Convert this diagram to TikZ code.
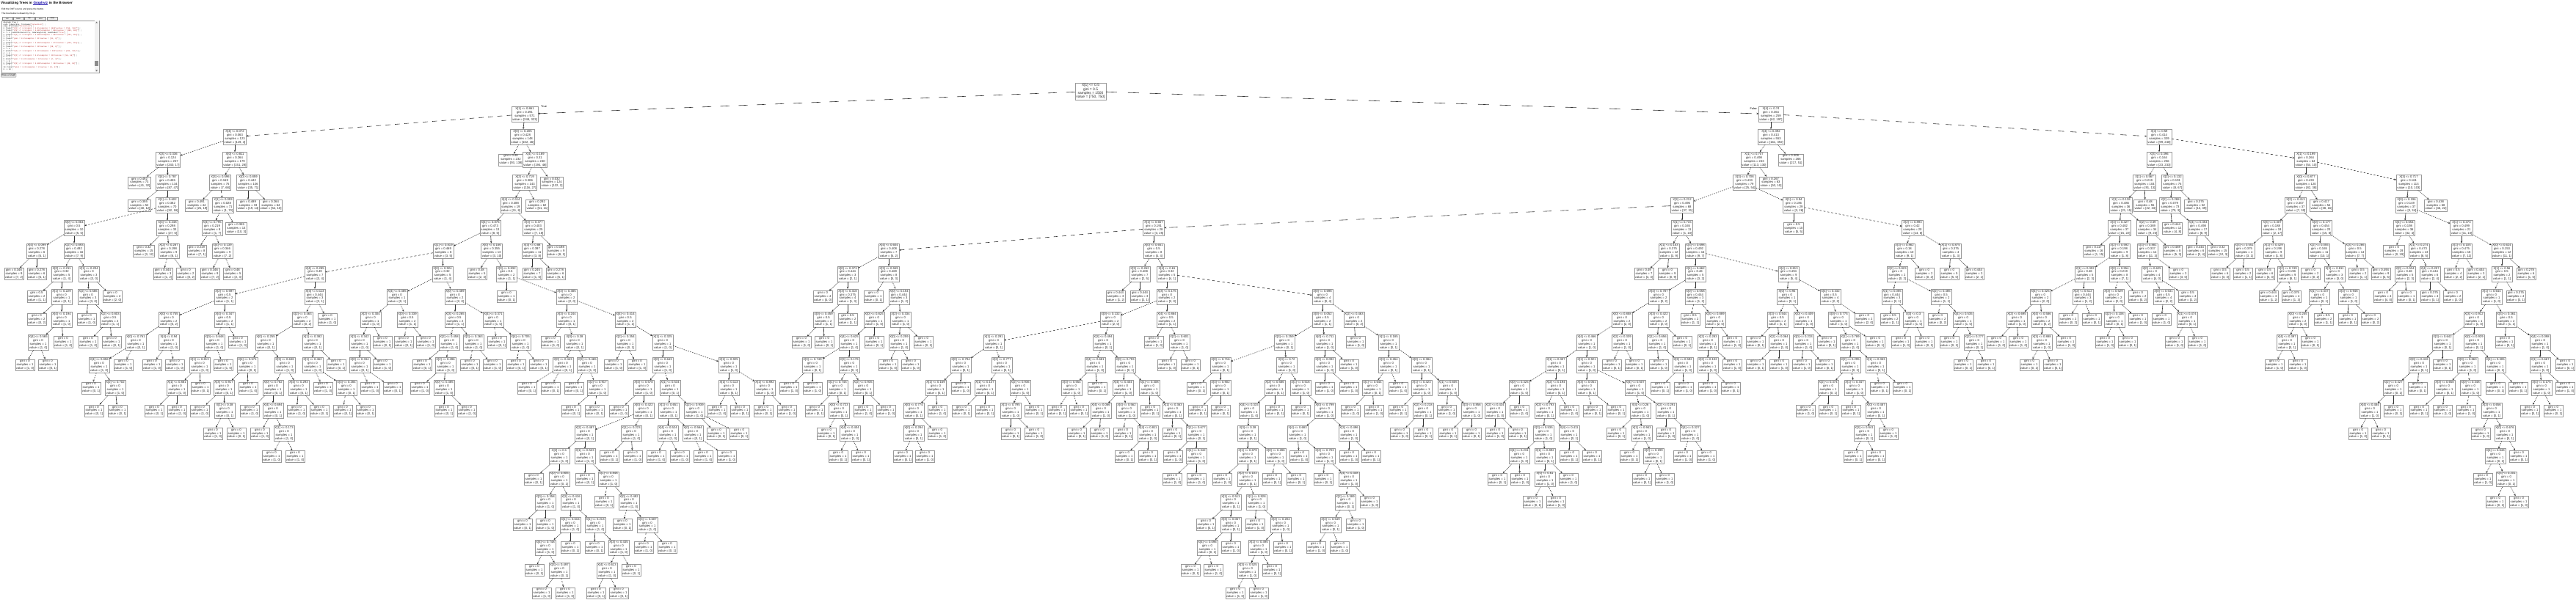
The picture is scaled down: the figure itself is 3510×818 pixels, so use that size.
\documentclass[tikz,border=0pt]{standalone}
\usepackage{fontspec}
\setmainfont{Liberation Sans}
\setmonofont{Liberation Mono}
\usetikzlibrary{arrows.meta}
\definecolor{linkblue}{HTML}{1A0DAB}
\definecolor{codered}{HTML}{B22222}
\pgfkeys{/pgf/number format/.cd,fixed,precision=3,assume math mode=true}
\newcount\lfno
\newcommand\bsl{\textbackslash}
\newcommand\tgen[1]{%
  \pgfmathtruncatemacro\nn{max(1,round(1500*pow(0.5,#1)*(0.3+1.3*rnd)))}%
  \pgfmathtruncatemacro\na{round(\nn*rnd)}%
  \pgfmathtruncatemacro\nb{\nn-\na}%
  \pgfmathsetmacro\gi{1-(\na/\nn)^2-(\nb/\nn)^2}%
  \pgfmathtruncatemacro\fk{random(0,4)}%
  \pgfmathsetmacro\thr{0.05+0.9*rnd}}
\newcommand\tedg[3]{%
  \pgfmathsetmacro\ddx{abs(#3-\csname nx@#1\endcsname)}%
  \ifdim\ddx pt<3.5pt\relax
    \draw[tedge] (#1) -- (#2);%
  \else
    \pgfmathsetmacro\rr{min(\ddx,31.1)/max(\ddx,31.1)}%
    \pgfmathsetmacro\hp{max(0.75,sqrt(1+\rr*\rr)/\rr/2)}%
    \draw[tedge,dash pattern=on \hp pt off \hp pt] (#1) -- (#2);%
  \fi}
\newcommand\tnI[4]{%
  \tgen{#4}%
  \node[inode] (#1) at (#3,{-124.5-31.1*#4}) {X[\fk] <= \pgfmathprintnumber{\thr}\\gini = \pgfmathprintnumber{\gi}\\samples = \nn\\value = [\na, \nb]};%
  \expandafter\xdef\csname nx@#1\endcsname{#3}%
  \tedg{#2}{#1}{#3}}
\newcommand\tnL[3]{%
  \global\advance\lfno by 1
  \edef\lfname{lf\the\lfno}%
  \tgen{#3}%
  \node[lnode] (\lfname) at (#2,{-124.5-31.1*#3}) {gini = \pgfmathprintnumber{\gi}\\samples = \nn\\value = [\na, \nb]};%
  \tedg{#1}{\lfname}{#2}}
\newcommand\cl[2]{\node[codeln] at (4.5,#1) {#2};}
\begin{document}
\begin{tikzpicture}[x=1pt,y=1pt,
  inode/.style={draw=black!40,line width=0.4pt,fill=white,text=black!85,inner sep=1.1pt,align=center,minimum width=28pt,font=\fontsize{4.2}{4.9}\selectfont},
  lnode/.style={inode,minimum width=24pt},
  rootnode/.style={inode,font=\fontsize{4.9}{5.3}\selectfont,inner sep=1.3pt},
  tedge/.style={draw=black!80,line width=0.6pt,-{Stealth[length=2.8pt,width=2.4pt]}},
  lbl/.style={font=\fontsize{3.8}{4}\selectfont,inner sep=0},
  codeln/.style={anchor=west,inner sep=0,font=\ttfamily\fontsize{2.4}{2.6}\selectfont},
  smalltxt/.style={anchor=west,inner sep=0,font=\fontsize{3.1}{3.5}\selectfont},
  titletxt/.style={anchor=west,inner sep=0,font=\fontsize{4.6}{5}\selectfont\bfseries},
  tabbox/.style={draw=black!45,fill=black!6,line width=0.3pt,inner sep=0,minimum width=14pt,minimum height=4pt,font=\fontsize{2.3}{2.5}\selectfont}]
\useasboundingbox (0,0) rectangle (3510,-818);
\fill[white] (0,0) rectangle (3510,-818);
\pgfmathsetseed{12}
% ---------- page header / editor ----------
\node[titletxt] (title1) at (1,-4) {Visualizing Trees in};
\node[titletxt,text=linkblue,anchor=base west] (titlelink) at ([xshift=1.3pt]title1.base east) {Graphviz};
\draw[linkblue,line width=0.3pt] ([yshift=-0.5pt]titlelink.base west) -- ([yshift=-0.5pt]titlelink.base east);
\node[titletxt,anchor=base west] (title2) at ([xshift=1.3pt]titlelink.base east) {in the Browser};
\node[smalltxt] (line2) at (2,-13) {Edit the DOT source and press the button.};
\node[smalltxt] (line3) at (2,-19) {The tree below is drawn by Viz.js.};
\node[tabbox] (tab1) at (10,-25.3) {dot};
\node[tabbox] (tab2) at (25,-25.3) {neato};
\node[tabbox] (tab3) at (40,-25.3) {fdp};
\node[tabbox] (tab4) at (55.5,-25.3) {circo};
\node[tabbox] (tab5) at (71.5,-25.3) {twopi};
\draw[black!40,line width=0.35pt] (2,-28) rectangle (135,-99);
\fill[black!5] (128.6,-28.5) rectangle (134.5,-98.5);
\fill[black!45] (129.4,-83.5) rectangle (133.7,-90.5);
\fill[black!55] (130.2,-31.5) -- (133,-31.5) -- (131.6,-29.6) -- cycle;
\fill[black!55] (130.2,-95.5) -- (133,-95.5) -- (131.6,-97.4) -- cycle;
\cl{-30.6}{digraph Tree \{}
\cl{-33.4}{node [shape=box, fontname=\textcolor{codered}{"helvetica"}] ;}
\cl{-36.2}{edge [fontname=\textcolor{codered}{"helvetica"}] ;}
\cl{-39.0}{0 [label=\textcolor{codered}{"X[1] <= 0.5\bsl ngini = 0.5\bsl nsamples = 1500\bsl nvalue = [750, 750]"}] ;}
\cl{-41.8}{1 [label=\textcolor{codered}{"X[0] <= 0.5\bsl ngini = 0.482\bsl nsamples = 806\bsl nvalue = [480, 326]"}] ;}
\cl{-44.6}{0 -> 1 [labeldistance=2.5, labelangle=45, headlabel=\textcolor{codered}{"True"}] ;}
\cl{-47.4}{2 [label=\textcolor{codered}{"X[2] <= 0.5\bsl ngini = 0.468\bsl nsamples = 402\bsl nvalue = [251, 151]"}] ;}
\cl{-50.2}{1 -> 2 ;}
\cl{-53.0}{3 [label=\textcolor{codered}{"gini = 0.0\bsl nsamples = 31\bsl nvalue = [31, 0]"}] ;}
\cl{-55.8}{2 -> 3 ;}
\cl{-58.6}{4 [label=\textcolor{codered}{"X[3] <= 0.5\bsl ngini = 0.459\bsl nsamples = 371\bsl nvalue = [220, 151]"}] ;}
\cl{-61.4}{2 -> 4 ;}
\cl{-64.2}{5 [label=\textcolor{codered}{"gini = 0.0\bsl nsamples = 18\bsl nvalue = [18, 0]"}] ;}
\cl{-67.0}{4 -> 5 ;}
\cl{-69.8}{6 [label=\textcolor{codered}{"X[3] <= 1.5\bsl ngini = 0.49\bsl nsamples = 353\bsl nvalue = [202, 151]"}] ;}
\cl{-72.6}{4 -> 6 ;}
\cl{-75.4}{7 [label=\textcolor{codered}{"X[2] <= 1.5\bsl ngini = 0.5\bsl nsamples = 112\bsl nvalue = [56, 56]"}] ;}
\cl{-78.2}{6 -> 7 ;}
\cl{-81.0}{8 [label=\textcolor{codered}{"gini = 0.42\bsl nsamples = 10\bsl nvalue = [7, 3]"}] ;}
\cl{-83.8}{7 -> 8 ;}
\cl{-86.6}{9 [label=\textcolor{codered}{"X[0] <= 2.5\bsl ngini = 0.498\bsl nsamples = 102\bsl nvalue = [49, 53]"}] ;}
\cl{-89.4}{7 -> 9 ;}
\cl{-92.2}{10 [label=\textcolor{codered}{"gini = 0.0\bsl nsamples = 4\bsl nvalue = [0, 4]"}] ;}
\cl{-95.0}{9 -> 10 ;}
\node[draw=black!50,fill=black!8,line width=0.35pt,rounded corners=0.6pt,inner sep=0.8pt,font=\fontsize{3.1}{3.4}\selectfont,anchor=north west] (btn) at (1,-100.5) {Draw a Graph};
% ---------- tree ----------
\node[rootnode] (r) at (1486,-124.5) {X[1] <= 0.5\\gini = 0.5\\samples = 1500\\value = [750, 750]};
\expandafter\xdef\csname nx@r\endcsname{1486}
% A subtree
\tnI{A}{r}{715}{1}
\tnI{B}{A}{320}{2}
\tnI{C}{A}{712}{2}
\tnI{B1}{B}{229}{3}
\tnI{B2}{B}{320}{3}
\tnL{B1}{190}{4}
\tnI{B1a}{B1}{228}{4}
\tnI{B2a}{B2}{300}{4}
\tnI{B2b}{B2}{338}{4}
\tnL{B1a}{190}{5}
\tnI{B1b}{B1a}{228}{5}
\tnL{B2a}{268}{5}
\tnI{B2a1}{B2a}{304}{5}
\tnL{B2b}{338}{5}
\tnL{B2b}{369}{5}
\tnI{D}{B1b}{101}{6}
\tnI{E}{B1b}{228}{6}
\tnI{B2a2}{B2a1}{289}{6}
\tnL{B2a1}{322}{6}
\tnI{D1}{D}{50}{7}
\tnI{D2}{D}{101}{7}
\tnL{E}{196}{7}
\tnI{E1}{E}{230}{7}
\tnL{B2a2}{268}{7}
\tnI{B2a3}{B2a2}{303}{7}
\tnL{D1}{19}{8}
\tnL{D1}{50}{8}
\tnI{D2a}{D2}{84}{8}
\tnI{D2b}{D2}{121}{8}
\tnL{E1}{222}{8}
\tnL{E1}{253}{8}
\tnL{B2a3}{286}{8}
\tnL{B2a3}{317}{8}
\tnL{D2a}{50}{9}
\tnI{D2a1}{D2a}{84}{9}
\tnI{D2b1}{D2b}{120}{9}
\tnL{D2b}{153}{9}
\tnL{D2a1}{50}{10}
\tnI{D2a2}{D2a1}{84}{10}
\tnL{D2b1}{118}{10}
\tnI{D2b2}{D2b1}{150}{10}
\tnI{D2a3}{D2a2}{52}{11}
\tnL{D2a2}{86}{11}
\tnL{D2b2}{120}{11}
\tnL{D2b2}{152}{11}
\tnL{D2a3}{34}{12}
\tnL{D2a3}{65}{12}
% C subtree
\tnL{C}{696}{3}
\tnI{C1}{C}{729}{3}
\tnI{C2}{C1}{715}{4}
\tnL{C1}{752}{4}
\tnI{C3}{C2}{696}{5}
\tnL{C2}{732}{5}
\tnI{F}{C3}{668}{6}
\tnI{G}{C3}{727}{6}
\tnI{H}{F}{604}{7}
\tnI{F1}{F}{670}{7}
\tnI{G1}{G}{725}{7}
\tnL{G}{758}{7}
\tnI{I}{H}{429}{8}
\tnI{H1}{H}{603}{8}
\tnL{F1}{650}{8}
\tnI{F2}{F1}{690}{8}
\tnL{G1}{725}{8}
\tnL{G1}{757}{8}
\tnL{F2}{690}{9}
\tnI{F3}{F2}{772}{9}
% I subtree
\tnI{Ia}{I}{306}{9}
\tnI{Ib}{I}{429}{9}
\tnI{Ia1}{Ia}{230}{10}
\tnI{Ia2}{Ia}{306}{10}
\tnI{Ia3}{Ia1}{185}{11}
\tnI{Ia4}{Ia1}{230}{11}
\tnI{Ia7}{Ia2}{292}{11}
\tnL{Ia2}{324}{11}
\tnI{Ia5}{Ia3}{135}{12}
\tnL{Ia3}{168}{12}
\tnL{Ia4}{207}{12}
\tnL{Ia4}{238}{12}
\tnI{Ia8}{Ia7}{272}{12}
\tnL{Ia7}{304}{12}
\tnL{Ia5}{124}{13}
\tnI{Ia6}{Ia5}{157}{13}
\tnI{Ia9}{Ia8}{241}{13}
\tnL{Ia8}{273}{13}
\tnL{Ia6}{128}{14}
\tnL{Ia6}{160}{14}
\tnL{Ia9}{210}{14}
\tnL{Ia9}{241}{14}
\tnI{Ib1}{Ib}{412}{10}
\tnL{Ib}{446}{10}
\tnI{Ib2}{Ib1}{362}{11}
\tnI{Ib3}{Ib1}{426}{11}
\tnI{Ib4}{Ib2}{337}{12}
\tnI{Ib5}{Ib2}{388}{12}
\tnI{Ib12}{Ib3}{426}{12}
\tnL{Ib3}{458}{12}
\tnI{Ib6}{Ib4}{305}{13}
\tnL{Ib4}{338}{13}
\tnI{Ib8}{Ib5}{372}{13}
\tnI{Ib9}{Ib5}{407}{13}
\tnL{Ib12}{440}{13}
\tnI{Ib13}{Ib12}{472}{13}
\tnL{Ib6}{272}{14}
\tnI{Ib7}{Ib6}{306}{14}
\tnL{Ib8}{340}{14}
\tnI{Ib10}{Ib8}{372}{14}
\tnL{Ib9}{404}{14}
\tnL{Ib9}{435}{14}
\tnL{Ib13}{467}{14}
\tnL{Ib13}{498}{14}
\tnL{Ib7}{290}{15}
\tnL{Ib7}{322}{15}
\tnL{Ib10}{354}{15}
\tnI{Ib11}{Ib10}{387}{15}
\tnL{Ib11}{370}{16}
\tnL{Ib11}{402}{16}
% H1 subtree
\tnI{H1a}{H1}{541}{9}
\tnI{H2}{H1}{620}{9}
\tnI{H1b}{H1a}{505}{10}
\tnI{H1c}{H1a}{555}{10}
\tnI{H2a}{H2}{620}{10}
\tnI{H2b}{H2}{672}{10}
\tnI{H1d}{H1b}{490}{11}
\tnL{H1b}{521}{11}
\tnL{H1c}{550}{11}
\tnL{H1c}{580}{11}
\tnI{H2c}{H2a}{612}{11}
\tnI{H2d}{H2a}{645}{11}
\tnL{H2b}{677}{11}
\tnI{H2e}{H2b}{709}{11}
\tnI{H1e}{H1d}{490}{12}
\tnL{H1d}{521}{12}
\tnL{H2c}{575}{12}
\tnI{H2g}{H2c}{607}{12}
\tnL{H2d}{640}{12}
\tnL{H2d}{671}{12}
\tnL{H2e}{703}{12}
\tnL{H2e}{734}{12}
\tnL{H1e}{504}{13}
\tnL{H1e}{535}{13}
\tnL{H2g}{572}{13}
\tnI{H2h}{H2g}{605}{13}
\tnL{H2h}{605}{14}
\tnL{H2h}{636}{14}
% F3 subtree
\tnI{F3a}{F3}{772}{10}
\tnI{F3b}{F3}{852}{10}
\tnL{F3a}{750}{11}
\tnI{F3a1}{F3a}{783}{11}
\tnI{F3b1}{F3b}{852}{11}
\tnI{F3b2}{F3b}{903}{11}
\tnI{F3a2}{F3a1}{767}{12}
\tnI{F3a3}{F3a1}{800}{12}
\tnL{F3b1}{836}{12}
\tnL{F3b1}{868}{12}
\tnI{F3c}{F3b2}{903}{12}
\tnI{F3d}{F3b2}{993}{12}
\tnL{F3a2}{718}{13}
\tnL{F3a2}{750}{13}
\tnL{F3a3}{782}{13}
\tnI{F3a4}{F3a3}{814}{13}
\tnI{F3c1}{F3c}{877}{13}
\tnI{F3c2}{F3c}{913}{13}
\tnI{F3d1}{F3d}{993}{13}
\tnI{F3d2}{F3d}{1042}{13}
\tnL{F3a4}{778}{14}
\tnL{F3a4}{810}{14}
\tnL{F3c1}{843}{14}
\tnI{F3c3}{F3c1}{877}{14}
\tnI{F3c20}{F3c2}{911}{14}
\tnI{F3c21}{F3c2}{946}{14}
\tnL{F3d1}{977}{14}
\tnL{F3d1}{1008}{14}
\tnL{F3d2}{1040}{14}
\tnL{F3d2}{1072}{14}
\tnI{F3c4}{F3c3}{797}{15}
\tnI{F3c5}{F3c3}{860}{15}
\tnI{F3c22}{F3c20}{910}{15}
\tnI{F3c23}{F3c20}{944}{15}
\tnL{F3c21}{976}{15}
\tnL{F3c21}{1007}{15}
\tnI{F3c6}{F3c4}{762}{16}
\tnI{F3c7}{F3c4}{797}{16}
\tnL{F3c5}{830}{16}
\tnL{F3c5}{862}{16}
\tnL{F3c22}{894}{16}
\tnL{F3c22}{926}{16}
\tnL{F3c23}{958}{16}
\tnL{F3c23}{990}{16}
\tnL{F3c6}{727}{17}
\tnI{F3c8}{F3c6}{762}{17}
\tnL{F3c7}{797}{17}
\tnI{F3c17}{F3c7}{829}{17}
\tnI{F3c9}{F3c8}{743}{18}
\tnI{F3c10}{F3c8}{778}{18}
\tnL{F3c17}{823}{18}
\tnI{F3c18}{F3c17}{857}{18}
\tnL{F3c9}{712}{19}
\tnL{F3c9}{743}{19}
\tnI{F3c11}{F3c10}{777}{19}
\tnI{F3c12}{F3c10}{811}{19}
\tnL{F3c18}{848}{19}
\tnI{F3c19}{F3c18}{882}{19}
\tnI{F3c13}{F3c11}{743}{20}
\tnL{F3c11}{777}{20}
\tnL{F3c12}{810}{20}
\tnI{F3c15}{F3c12}{843}{20}
\tnL{F3c19}{877}{20}
\tnL{F3c19}{909}{20}
\tnL{F3c13}{728}{21}
\tnI{F3c14}{F3c13}{762}{21}
\tnI{F3c16}{F3c15}{827}{21}
\tnL{F3c15}{860}{21}
\tnL{F3c14}{738}{22}
\tnL{F3c14}{770}{22}
\tnL{F3c16}{812}{22}
\tnL{F3c16}{843}{22}
% R chain
\tnI{R}{r}{2413}{1}
\tnI{R1}{R}{2413}{2}
\tnI{S}{R}{2942}{2}
\tnI{R2}{R1}{2390}{3}
\tnL{R1}{2440}{3}
\tnI{R3}{R2}{2377}{4}
\tnL{R2}{2413}{4}
\tnI{T}{R3}{2292}{5}
\tnI{U}{R3}{2444}{5}
\tnI{P}{T}{1572}{6}
\tnI{T1}{T}{2292}{6}
\tnL{U}{2444}{6}
\tnI{V}{U}{2606}{6}
% P1 subtree
\tnI{P1}{P}{1211}{7}
\tnI{P2}{P}{1572}{7}
\tnI{P1a}{P1}{1155}{8}
\tnI{P1b}{P1}{1211}{8}
\tnL{P1a}{1121}{9}
\tnI{P1c}{P1a}{1155}{9}
\tnL{P1b}{1190}{9}
\tnI{P1e}{P1b}{1225}{9}
\tnI{P1d}{P1c}{1122}{10}
\tnL{P1c}{1155}{10}
\tnI{P1f}{P1e}{1191}{10}
\tnI{P1g}{P1e}{1227}{10}
\tnL{P1d}{1092}{11}
\tnL{P1d}{1123}{11}
\tnI{P1h}{P1f}{1157}{11}
\tnL{P1f}{1191}{11}
\tnI{P1i}{P1g}{1225}{11}
\tnL{P1g}{1258}{11}
\tnI{P1j}{P1h}{1107}{12}
\tnI{P1k}{P1h}{1157}{12}
\tnL{P1i}{1210}{12}
\tnL{P1i}{1241}{12}
\tnL{P1j}{1075}{13}
\tnL{P1j}{1107}{13}
\tnI{P1l}{P1k}{1141}{13}
\tnI{P1m}{P1k}{1176}{13}
\tnL{P1l}{1110}{14}
\tnI{P1n}{P1l}{1143}{14}
\tnL{P1m}{1176}{14}
\tnL{P1m}{1207}{14}
\tnL{P1n}{1126}{15}
\tnI{P1o}{P1n}{1158}{15}
\tnL{P1o}{1142}{16}
\tnL{P1o}{1173}{16}
% P2, M, K, Q
\tnI{P2a}{P2}{1553}{8}
\tnI{P2b}{P2}{1590}{8}
\tnL{P2a}{1520}{9}
\tnL{P2a}{1553}{9}
\tnI{P2c}{P2b}{1590}{9}
\tnI{Q}{P2b}{1802}{9}
\tnI{M1}{P2c}{1513}{10}
\tnI{M2}{P2c}{1590}{10}
\tnI{Qa}{Q}{1802}{10}
\tnI{Qb}{Q}{1845}{10}
\tnI{K}{M1}{1354}{11}
\tnI{M3}{M1}{1503}{11}
\tnL{M2}{1572}{11}
\tnI{M4}{M2}{1607}{11}
\tnI{Qc}{Qa}{1750}{11}
\tnI{Qd}{Qa}{1805}{11}
\tnL{Qb}{1847}{11}
\tnI{Qf}{Qb}{1892}{11}
\tnI{K1}{K}{1309}{12}
\tnI{K2}{K}{1365}{12}
\tnI{M5}{M3}{1492}{12}
\tnI{M6}{M3}{1533}{12}
\tnL{M4}{1590}{12}
\tnL{M4}{1622}{12}
\tnI{Qe}{Qc}{1663}{12}
\tnI{Qg0}{Qc}{1753}{12}
\tnI{Qh}{Qd}{1805}{12}
\tnL{Qd}{1838}{12}
\tnI{Qi}{Qf}{1892}{12}
\tnI{Qj}{Qf}{1937}{12}
\tnI{K3}{K1}{1275}{13}
\tnL{K1}{1309}{13}
\tnI{K6}{K2}{1342}{13}
\tnI{K7}{K2}{1390}{13}
\tnI{M7}{M5}{1460}{13}
\tnL{M5}{1495}{13}
\tnI{M8}{M6}{1530}{13}
\tnI{M9}{M6}{1566}{13}
\tnL{Qe}{1630}{13}
\tnI{Qk}{Qe}{1663}{13}
\tnI{Ql}{Qg0}{1737}{13}
\tnI{Qm}{Qg0}{1772}{13}
\tnL{Qh}{1805}{13}
\tnL{Qh}{1838}{13}
\tnI{Qn}{Qi}{1870}{13}
\tnL{Qi}{1905}{13}
\tnI{Qo}{Qj}{1937}{13}
\tnI{Qp}{Qj}{1973}{13}
\tnI{K4}{K3}{1245}{14}
\tnL{K3}{1277}{14}
\tnL{K6}{1310}{14}
\tnL{K6}{1342}{14}
\tnI{K8}{K7}{1377}{14}
\tnL{K7}{1409}{14}
\tnL{M7}{1440}{14}
\tnL{M7}{1470}{14}
\tnI{M10}{M8}{1500}{14}
\tnI{M11}{M8}{1535}{14}
\tnL{M9}{1567}{14}
\tnI{M13}{M9}{1598}{14}
\tnL{Qk}{1632}{14}
\tnL{Qk}{1663}{14}
\tnI{Qg}{Ql}{1702}{14}
\tnL{Ql}{1737}{14}
\tnL{Qm}{1772}{14}
\tnI{Qq}{Qm}{1805}{14}
\tnL{Qn}{1840}{14}
\tnL{Qn}{1872}{14}
\tnL{Qo}{1905}{14}
\tnI{Qr}{Qo}{1939}{14}
\tnL{Qp}{1971}{14}
\tnI{Qs}{Qp}{2005}{14}
\tnI{K5}{K4}{1245}{15}
\tnL{K4}{1277}{15}
\tnL{K8}{1377}{15}
\tnL{K8}{1409}{15}
\tnL{M10}{1467}{15}
\tnL{M10}{1498}{15}
\tnL{M11}{1530}{15}
\tnI{M12}{M11}{1564}{15}
\tnL{M13}{1597}{15}
\tnI{M14}{M13}{1630}{15}
\tnI{Qt}{Qg}{1700}{15}
\tnI{Qu}{Qq}{1768}{15}
\tnI{Qv}{Qq}{1838}{15}
\tnL{Qr}{1907}{15}
\tnL{Qr}{1939}{15}
\tnL{Qs}{1973}{15}
\tnL{Qs}{2005}{15}
\tnL{K5}{1230}{16}
\tnL{K5}{1260}{16}
\tnL{M12}{1532}{16}
\tnL{M12}{1564}{16}
\tnL{M14}{1598}{16}
\tnI{M15}{M14}{1630}{16}
\tnI{Qw}{Qt}{1700}{16}
\tnI{Qx}{Qt}{1738}{16}
\tnL{Qu}{1770}{16}
\tnI{Qy}{Qu}{1805}{16}
\tnL{Qv}{1838}{16}
\tnL{Qv}{1868}{16}
\tnL{M15}{1597}{17}
\tnL{M15}{1630}{17}
\tnL{Qw}{1665}{17}
\tnI{Qz}{Qw}{1700}{17}
\tnL{Qx}{1733}{17}
\tnL{Qx}{1766}{17}
\tnL{Qy}{1803}{17}
\tnI{Qy2}{Qy}{1838}{17}
\tnI{Q1}{Qz}{1677}{18}
\tnI{Q2}{Qz}{1712}{18}
\tnI{Q3}{Qy2}{1833}{18}
\tnL{Qy2}{1866}{18}
\tnL{Q1}{1643}{19}
\tnI{Q4}{Q1}{1677}{19}
\tnL{Q2}{1710}{19}
\tnI{Q5}{Q2}{1745}{19}
\tnI{Q6}{Q3}{1813}{19}
\tnL{Q3}{1847}{19}
\tnI{Q7}{Q4}{1645}{20}
\tnL{Q4}{1677}{20}
\tnI{Q8}{Q5}{1715}{20}
\tnL{Q5}{1748}{20}
\tnL{Q6}{1793}{20}
\tnL{Q6}{1825}{20}
\tnL{Q7}{1622}{21}
\tnL{Q7}{1653}{21}
\tnI{Q9}{Q8}{1700}{21}
\tnL{Q8}{1733}{21}
\tnL{Q9}{1683}{22}
\tnL{Q9}{1715}{22}
% T subtree
\tnI{T2}{T1}{2274}{7}
\tnI{T3}{T1}{2310}{7}
\tnL{T2}{2240}{8}
\tnL{T2}{2272}{8}
\tnI{T4}{T3}{2310}{8}
\tnI{T5}{T3}{2437}{8}
\tnI{T6}{T4}{2260}{9}
\tnI{T7}{T4}{2310}{9}
\tnI{T5a}{T5}{2435}{9}
\tnI{T5b}{T5}{2494}{9}
\tnI{T8}{T6}{2210}{10}
\tnI{T9}{T6}{2260}{10}
\tnL{T7}{2303}{10}
\tnI{T10}{T7}{2337}{10}
\tnI{T5c}{T5a}{2422}{10}
\tnI{T5d}{T5a}{2458}{10}
\tnI{T5g}{T5b}{2505}{10}
\tnL{T5b}{2540}{10}
\tnI{T11}{T8}{2162}{11}
\tnI{T12}{T8}{2210}{11}
\tnI{T13}{T9}{2258}{11}
\tnL{T9}{2292}{11}
\tnI{T14}{T10}{2327}{11}
\tnL{T10}{2360}{11}
\tnL{T5c}{2392}{11}
\tnI{T5e}{T5c}{2424}{11}
\tnI{T5f}{T5d}{2457}{11}
\tnL{T5d}{2489}{11}
\tnI{T5h}{T5g}{2521}{11}
\tnL{T5g}{2555}{11}
\tnI{T15}{T11}{2120}{12}
\tnI{T16}{T11}{2162}{12}
\tnL{T12}{2196}{12}
\tnL{T12}{2227}{12}
\tnL{T13}{2260}{12}
\tnI{T17}{T13}{2293}{12}
\tnI{T18}{T14}{2327}{12}
\tnL{T14}{2360}{12}
\tnL{T5e}{2392}{12}
\tnL{T5e}{2424}{12}
\tnL{T5f}{2455}{12}
\tnL{T5f}{2486}{12}
\tnI{T5i}{T5h}{2521}{12}
\tnI{T5j}{T5h}{2556}{12}
\tnI{T19}{T15}{2070}{13}
\tnI{T20}{T15}{2120}{13}
\tnI{T21}{T16}{2162}{13}
\tnI{T22}{T16}{2228}{13}
\tnL{T17}{2262}{13}
\tnL{T17}{2294}{13}
\tnL{T18}{2327}{13}
\tnL{T18}{2358}{13}
\tnI{T5k}{T5i}{2491}{13}
\tnI{T5l}{T5i}{2527}{13}
\tnL{T5j}{2561}{13}
\tnL{T5j}{2592}{13}
\tnI{T23}{T19}{2037}{14}
\tnL{T19}{2070}{14}
\tnI{T24}{T20}{2105}{14}
\tnL{T20}{2138}{14}
\tnL{T21}{2170}{14}
\tnL{T21}{2202}{14}
\tnI{T25}{T22}{2235}{14}
\tnI{T26}{T22}{2270}{14}
\tnL{T5k}{2460}{14}
\tnL{T5k}{2491}{14}
\tnL{T5l}{2522}{14}
\tnI{T5m}{T5l}{2556}{14}
\tnL{T23}{2037}{15}
\tnL{T23}{2068}{15}
\tnI{T27}{T24}{2103}{15}
\tnI{T28}{T24}{2138}{15}
\tnL{T25}{2202}{15}
\tnI{T29}{T25}{2237}{15}
\tnL{T26}{2270}{15}
\tnI{T30}{T26}{2303}{15}
\tnI{T5n}{T5m}{2540}{15}
\tnL{T5m}{2573}{15}
\tnI{T31}{T27}{2070}{16}
\tnI{T32}{T27}{2105}{16}
\tnL{T28}{2138}{16}
\tnL{T28}{2169}{16}
\tnL{T29}{2220}{16}
\tnI{T33}{T29}{2253}{16}
\tnL{T30}{2293}{16}
\tnL{T30}{2325}{16}
\tnL{T5n}{2525}{16}
\tnL{T5n}{2556}{16}
\tnL{T31}{2040}{17}
\tnL{T31}{2071}{17}
\tnI{T34}{T32}{2105}{17}
\tnL{T32}{2137}{17}
\tnL{T33}{2237}{17}
\tnL{T33}{2268}{17}
\tnL{T34}{2088}{18}
\tnL{T34}{2120}{18}
% V subtree
\tnI{V1}{V}{2595}{7}
\tnI{V2}{V}{2658}{7}
\tnI{V3}{V1}{2585}{8}
\tnL{V1}{2622}{8}
\tnL{V2}{2656}{8}
\tnL{V2}{2690}{8}
\tnI{V4}{V3}{2578}{9}
\tnI{V5}{V3}{2645}{9}
\tnL{V4}{2575}{10}
\tnI{V6}{V4}{2607}{10}
\tnL{V5}{2640}{10}
\tnI{V8}{V5}{2675}{10}
\tnL{V6}{2590}{11}
\tnL{V6}{2622}{11}
\tnL{V8}{2656}{11}
\tnI{V9}{V8}{2690}{11}
\tnL{V9}{2675}{12}
\tnL{V9}{2706}{12}
% S subtree
\tnI{S1}{S}{2942}{3}
\tnI{S2}{S}{3142}{3}
\tnI{S3}{S1}{2922}{4}
\tnI{S4}{S1}{2960}{4}
\tnI{S23}{S2}{3142}{4}
\tnI{S24}{S2}{3282}{4}
\tnI{S5}{S3}{2890}{5}
\tnL{S3}{2923}{5}
\tnI{S4a}{S4}{2957}{5}
\tnL{S4}{2992}{5}
\tnI{S25}{S23}{3128}{5}
\tnL{S23}{3163}{5}
\tnI{S38}{S24}{3279}{5}
\tnL{S24}{3319}{5}
\tnI{S6}{S5}{2888}{6}
\tnI{S7}{S5}{2926}{6}
\tnL{S4a}{2960}{6}
\tnI{S22}{S4a}{2995}{6}
\tnI{S26}{S25}{3096}{6}
\tnI{S27}{S25}{3163}{6}
\tnI{S39}{S38}{3276}{6}
\tnI{S40}{S38}{3354}{6}
\tnL{S6}{2853}{7}
\tnI{S8}{S6}{2888}{7}
\tnI{S18}{S7}{2926}{7}
\tnL{S7}{2960}{7}
\tnL{S22}{2992}{7}
\tnL{S22}{3022}{7}
\tnI{S28}{S26}{3058}{7}
\tnI{S29}{S26}{3098}{7}
\tnI{S31}{S27}{3160}{7}
\tnI{S32}{S27}{3209}{7}
\tnL{S39}{3262}{7}
\tnI{S41}{S39}{3296}{7}
\tnI{S44}{S40}{3354}{7}
\tnI{S45}{S40}{3409}{7}
\tnI{S9}{S8}{2841}{8}
\tnI{S10}{S8}{2888}{8}
\tnI{S19}{S18}{2932}{8}
\tnL{S18}{2968}{8}
\tnL{S28}{3025}{8}
\tnL{S28}{3056}{8}
\tnL{S29}{3086}{8}
\tnI{S30}{S29}{3117}{8}
\tnL{S31}{3148}{8}
\tnI{S33}{S31}{3181}{8}
\tnL{S32}{3213}{8}
\tnL{S32}{3244}{8}
\tnI{S42}{S41}{3277}{8}
\tnI{S43}{S41}{3311}{8}
\tnL{S44}{3343}{8}
\tnL{S44}{3374}{8}
\tnI{S46}{S45}{3409}{8}
\tnL{S45}{3442}{8}
\tnI{S11}{S9}{2780}{9}
\tnI{S12}{S9}{2838}{9}
\tnI{S16}{S10}{2880}{9}
\tnL{S10}{2913}{9}
\tnI{S20}{S19}{2948}{9}
\tnL{S19}{2981}{9}
\tnL{S30}{3091}{9}
\tnL{S30}{3122}{9}
\tnI{S34}{S33}{3160}{9}
\tnI{S35}{S33}{3200}{9}
\tnL{S42}{3247}{9}
\tnL{S42}{3279}{9}
\tnL{S43}{3311}{9}
\tnL{S43}{3342}{9}
\tnI{S47}{S46}{3395}{9}
\tnL{S46}{3428}{9}
\tnI{S13}{S11}{2748}{10}
\tnI{S14}{S11}{2782}{10}
\tnL{S12}{2818}{10}
\tnL{S12}{2850}{10}
\tnI{S17}{S16}{2881}{10}
\tnL{S16}{2913}{10}
\tnL{S20}{2945}{10}
\tnI{S21}{S20}{2980}{10}
\tnI{S36}{S34}{3131}{10}
\tnL{S34}{3166}{10}
\tnL{S35}{3199}{10}
\tnL{S35}{3230}{10}
\tnI{S48}{S47}{3371}{10}
\tnI{S49}{S47}{3415}{10}
\tnL{S13}{2720}{11}
\tnL{S13}{2750}{11}
\tnI{S15}{S14}{2782}{11}
\tnL{S14}{2815}{11}
\tnL{S17}{2868}{11}
\tnL{S17}{2899}{11}
\tnL{S21}{2963}{11}
\tnL{S21}{2994}{11}
\tnI{S37}{S36}{3116}{11}
\tnL{S36}{3148}{11}
\tnI{S50}{S48}{3328}{11}
\tnI{S51}{S48}{3371}{11}
\tnL{S49}{3413}{11}
\tnI{S63}{S49}{3461}{11}
\tnL{S15}{2765}{12}
\tnL{S15}{2797}{12}
\tnL{S37}{3099}{12}
\tnL{S37}{3131}{12}
\tnI{S52}{S50}{3296}{12}
\tnL{S50}{3328}{12}
\tnI{S55}{S51}{3362}{12}
\tnI{S56}{S51}{3400}{12}
\tnI{S64}{S63}{3461}{12}
\tnL{S63}{3495}{12}
\tnI{S53}{S52}{3261}{13}
\tnL{S52}{3294}{13}
\tnI{S57}{S55}{3331}{13}
\tnI{S58}{S55}{3366}{13}
\tnL{S56}{3400}{13}
\tnL{S56}{3431}{13}
\tnI{S65}{S64}{3463}{13}
\tnL{S64}{3495}{13}
\tnI{S54}{S53}{3229}{14}
\tnL{S53}{3261}{14}
\tnL{S57}{3296}{14}
\tnL{S57}{3328}{14}
\tnL{S58}{3360}{14}
\tnI{S59}{S58}{3395}{14}
\tnL{S65}{3447}{14}
\tnL{S65}{3479}{14}
\tnL{S54}{3213}{15}
\tnL{S54}{3244}{15}
\tnL{S59}{3380}{15}
\tnI{S60}{S59}{3413}{15}
\tnI{S61}{S60}{3400}{16}
\tnL{S60}{3432}{16}
\tnL{S61}{3383}{17}
\tnI{S62}{S61}{3415}{17}
\tnL{S62}{3400}{18}
\tnL{S62}{3432}{18}
% edge labels
\node[lbl,anchor=west] (truelbl) at (737,-145) {True};
\node[lbl,anchor=east] (falselbl) at (2394,-148) {False};
\end{tikzpicture}
\end{document}
